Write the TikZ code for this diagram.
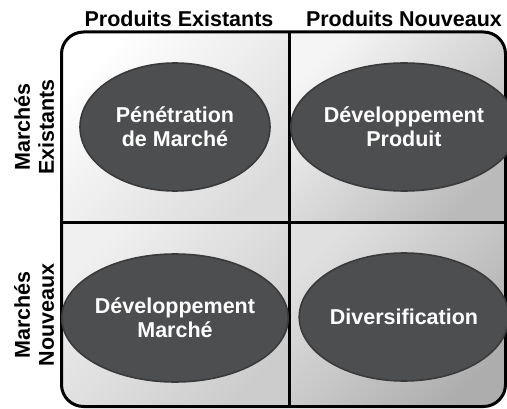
\documentclass[tikz,border=0pt]{standalone}
\usepackage{fontspec}
\setmainfont{Liberation Sans}
\usetikzlibrary{shapes.geometric}
\definecolor{ovalgray}{HTML}{4D4E50}
\definecolor{ovaledge}{HTML}{3A3A3A}

\begin{document}
\begin{tikzpicture}[
        x=1pt, y=1pt,
        thick,
        font=\bfseries\fontsize{21.5}{24}\selectfont
    ]
    \tikzset{
        strat/.style = {ellipse, draw=ovaledge, line width=1.6pt, fill=ovalgray, text=white,
                        align=center, minimum width=190pt, minimum height=128pt, inner sep=0pt},
        toplabel/.style = {anchor=base, align=center},
        sidelabel/.style = {rotate=90, align=center},
        cellfill/.style 2 args = {top color=#1, bottom color=#2, shading angle=45},
        gridline/.style = {line width=3pt, black},
    }
    \useasboundingbox (0,0) rectangle (507,408);
    %
    \coordinate (nw) at (61.5,376);
    \coordinate (se) at (505.5,1.5);
    \coordinate (mid) at (289,186);
    \coordinate (mt) at (289,376);
    \coordinate (mb) at (289,1.5);
    \coordinate (ml) at (61.5,186);
    \coordinate (mr) at (505.5,186);
    %
    \begin{scope}
        \clip[rounded corners=22pt] (nw) rectangle (se);
        \shade[cellfill={white}{black!14}] (nw) rectangle (mid);
        \shade[cellfill={black!4}{black!27}] (mt) rectangle (mr);
        \shade[cellfill={black!6}{black!20}] (ml) rectangle (mb);
        \shade[cellfill={black!12}{black!32}] (mid) rectangle (se);
    \end{scope}
    \draw[gridline] (mt) -- (mb);
    \draw[gridline] (ml) -- (mr);
    \draw[gridline, rounded corners=22pt] (nw) rectangle (se);
    %
    \node[toplabel] at (179,381) (pe) {Produits Existants};
    \node[toplabel] at (404,381) (pn) {Produits Nouveaux};
    \node[sidelabel] at (34,281) (me) {Marchés\\Existants};
    \node[sidelabel] at (34,93) (mn) {Marchés\\Nouveaux};
    %
    \node[strat] at (175,281) (pen) {Pénétration\\de Marché};
    \node[strat] at (404,281) (dp) {Développement\\Produit};
    \node[strat] at (175,90) (dm) {Développement\\Marché};
    \node[strat] at (404,91) (div) {Diversification};
\end{tikzpicture}
\end{document}
